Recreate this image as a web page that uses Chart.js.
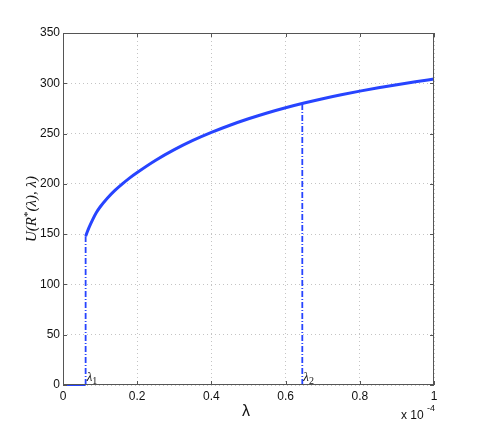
<!DOCTYPE html>
<html>
<head>
<meta charset="utf-8">
<script src="https://cdn.jsdelivr.net/npm/chart.js@4/dist/chart.umd.min.js"></script>
<style>
  html, body { margin: 0; padding: 0; background: #fff; }
  #wrap { width: 480px; height: 433px; }
</style>
</head>
<body>
<div id="wrap"><canvas id="c" width="480" height="433"></canvas></div>
<script>
// lambda values (x 1e-4) and U(R*(lambda), lambda)
const lamCurve = [0.061, 0.07, 0.08, 0.09, 0.1, 0.12, 0.14, 0.16, 0.18, 0.2, 0.25, 0.3, 0.35, 0.4, 0.45, 0.5, 0.55, 0.6, 0.65, 0.7, 0.75, 0.8, 0.85, 0.9, 0.95, 1.0];
const uCurve   = [148, 156.5, 164.5, 171.5, 177, 186, 193.5, 200, 206, 211.3, 223.5, 234, 243.2, 251.2, 258.3, 264.7, 270.5, 275.7, 280.4, 284.7, 288.6, 292.2, 295.5, 298.6, 301.5, 304.2];
const lamFlat = [0, 0.061];
const uFlat = [0, 0];
const lambda1 = 0.061, uAt1 = 148;
const lambda2 = 0.645, uAt2 = 280;
const xTicks = [0, 0.2, 0.4, 0.6, 0.8, 1];
const yTicks = [0, 50, 100, 150, 200, 250, 300, 350];

const blue = "#2744ff";
const toPts = (xs, ys) => xs.map((x, i) => ({x: x, y: ys[i]}));

// frame, inner ticks and the extra labels, MATLAB style
const decor = {
    id: "decor",
    afterDraw(chart) {
        const ctx = chart.ctx;
        const a = chart.chartArea;
        const xs = chart.scales.x, ys = chart.scales.y;
        ctx.save();
        ctx.strokeStyle = "#555";
        ctx.lineWidth = 1;
        ctx.strokeRect(a.left + 0.5, a.top + 0.5, a.right - a.left - 1, a.bottom - a.top - 1);
        ctx.beginPath();
        xTicks.forEach(t => {
            const px = Math.round(xs.getPixelForValue(t)) + 0.5;
            ctx.moveTo(px, a.bottom); ctx.lineTo(px, a.bottom - 4);
            ctx.moveTo(px, a.top); ctx.lineTo(px, a.top + 4);
        });
        yTicks.forEach(t => {
            const py = Math.round(ys.getPixelForValue(t)) + 0.5;
            ctx.moveTo(a.left, py); ctx.lineTo(a.left + 4, py);
            ctx.moveTo(a.right, py); ctx.lineTo(a.right - 4, py);
        });
        ctx.stroke();

        ctx.fillStyle = "#111";
        // x title
        ctx.font = "16px 'Liberation Sans', Arial, sans-serif";
        ctx.textAlign = "center";
        ctx.textBaseline = "alphabetic";
        ctx.fillText("λ", 246, 416);
        // exponent
        ctx.font = "12px 'Liberation Sans', Arial, sans-serif";
        ctx.textAlign = "left";
        ctx.fillText("x 10", 401, 419);
        ctx.font = "9px 'Liberation Sans', Arial, sans-serif";
        ctx.fillText("-4", 427, 411);

        // lambda markers
        const sub = (txt, s, x, y) => {
            ctx.font = "italic 13px 'Liberation Serif', 'DejaVu Serif', serif";
            ctx.textAlign = "left";
            ctx.fillText(txt, x, y);
            const w = ctx.measureText(txt).width;
            ctx.font = "10px 'Liberation Serif', 'DejaVu Serif', serif";
            ctx.fillText(s, x + w, y + 3);
        };
        sub("λ", "1", xs.getPixelForValue(lambda1) + 1, 381);
        sub("λ", "2", xs.getPixelForValue(lambda2) + 1, 381);

        // y title, rotated
        ctx.translate(36, (a.top + a.bottom) / 2);
        ctx.rotate(-Math.PI / 2);
        const parts = [
            ["U(R", "italic 15px 'Liberation Serif', serif", 0],
            ["*", "11px 'Liberation Serif', serif", -5],
            ["(λ), λ)", "italic 15px 'Liberation Serif', serif", 0]
        ];
        let total = 0;
        parts.forEach(p => { ctx.font = p[1]; total += ctx.measureText(p[0]).width; });
        let cx = -total / 2;
        parts.forEach(p => {
            ctx.font = p[1];
            ctx.fillText(p[0], cx, p[2]);
            cx += ctx.measureText(p[0]).width;
        });
        ctx.restore();
    }
};

new Chart(document.getElementById("c"), {
    type: "scatter",
    data: {
        datasets: [
            {data: toPts(lamCurve, uCurve), showLine: true, borderColor: blue, borderWidth: 3, pointRadius: 0, cubicInterpolationMode: "monotone", clip: 4},
            {data: toPts(lamFlat, uFlat), showLine: true, borderColor: blue, borderWidth: 2, pointRadius: 0, clip: 4},
            {data: [{x: lambda1, y: 0}, {x: lambda1, y: uAt1}], showLine: true, borderColor: blue, borderWidth: 1.8, borderDash: [6, 2, 1, 2], pointRadius: 0},
            {data: [{x: lambda2, y: 0}, {x: lambda2, y: uAt2}], showLine: true, borderColor: blue, borderWidth: 1.8, borderDash: [6, 2, 1, 2], pointRadius: 0}
        ]
    },
    options: {
        responsive: false,
        animation: false,
        layout: {padding: {left: 0, top: 33, right: 46, bottom: 0}},
        plugins: {legend: {display: false}, tooltip: {enabled: false}},
        scales: {
            x: {
                type: "linear", min: 0, max: 1,
                afterFit: s => { s.height = 48; },
                afterBuildTicks: s => { s.ticks = xTicks.map(v => ({value: v})); },
                grid: {color: "#c4c4c4", drawTicks: false, lineWidth: 1},
                border: {display: false, dash: [1, 3]},
                ticks: {padding: 4, color: "#111", font: {family: "'Liberation Sans', Arial, sans-serif", size: 12},
                        maxRotation: 0, callback: v => String(v)}
            },
            y: {
                min: 0, max: 350,
                afterFit: s => { s.width = 63; },
                afterBuildTicks: s => { s.ticks = yTicks.map(v => ({value: v})); },
                grid: {color: "#c4c4c4", drawTicks: false, lineWidth: 1},
                border: {display: false, dash: [1, 3]},
                ticks: {padding: 3, color: "#111", font: {family: "'Liberation Sans', Arial, sans-serif", size: 12}}
            }
        }
    },
    plugins: [decor]
});
</script>
</body>
</html>
